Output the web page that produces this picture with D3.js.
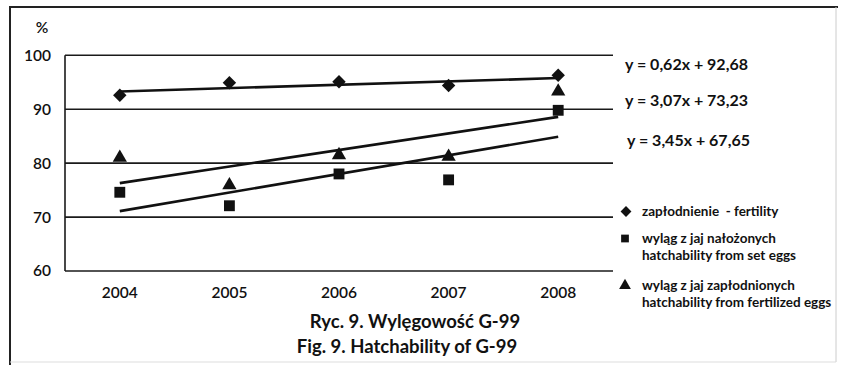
<!DOCTYPE html>
<html lang="pl">
<head>
<meta charset="UTF-8">
<title>Ryc. 9. Wylęgowość G-99</title>
<script src="https://d3js.org/d3.v7.min.js"></script>
<style>
    body { margin: 0; background: #fff; }
    svg { display: block; font-family: Lato, "Open Sans", sans-serif; }
    .tick-label { font-size: 15.5px; font-weight: 600; fill: #111; }
    .eq { font-size: 16px; font-weight: bold; fill: #111; }
    .legend-text { font-size: 13.5px; font-weight: bold; fill: #111; white-space: pre; }
    .title { font-size: 18.5px; font-weight: bold; fill: #111; }
</style>
</head>
<body>
<svg id="chart" width="841" height="365"></svg>
<script>
// data
const years = ["2004", "2005", "2006", "2007", "2008"];
const fertility = [92.6, 94.9, 95.1, 94.4, 96.3];
const setEggs = [74.6, 72.1, 78.0, 76.9, 89.8];
const fertilizedEggs = [81.0, 75.9, 81.5, 81.2, 93.3];
const yTicks = [60, 70, 80, 90, 100];

// trend equations printed on the chart (x = 1..5)
const trendSlopes = [0.62, 3.07, 3.45];
const trendIntercepts = [92.68, 73.23, 67.65];
const trendLabels = ["y = 0,62x + 92,68", "y = 3,07x + 73,23", "y = 3,45x + 67,65"];

const legendLabels = [
    ["zapłodnienie  - fertility"],
    ["wyląg z jaj nałożonych", "hatchability from set eggs"],
    ["wyląg z jaj zapłodnionych", "hatchability from fertilized eggs"]
];

const svg = d3.select("#chart");

// frame around the figure
svg.append("line").attr("x1", 9).attr("x2", 838).attr("y1", 7).attr("y2", 7)
    .attr("stroke", "#222").attr("stroke-width", 2);
svg.append("line").attr("x1", 10).attr("x2", 10).attr("y1", 7).attr("y2", 365)
    .attr("stroke", "#222").attr("stroke-width", 2);
svg.append("line").attr("x1", 836).attr("x2", 836).attr("y1", 7).attr("y2", 362)
    .attr("stroke", "#ccc").attr("stroke-width", 1);
svg.append("line").attr("x1", 10).attr("x2", 836).attr("y1", 362).attr("y2", 362)
    .attr("stroke", "#ddd").attr("stroke-width", 1);

const plotLeft = 65, plotRight = 613, plotTop = 55.3, plotBottom = 271;

const x = d3.scaleBand().domain(years).range([plotLeft, plotRight]);
const y = d3.scaleLinear().domain([60, 100]).range([plotBottom, plotTop]);
const cx = d => x(d) + x.bandwidth() / 2;

// gridlines
svg.append("g").selectAll("line")
    .data(yTicks)
    .join("line")
    .attr("x1", plotLeft).attr("x2", plotRight)
    .attr("y1", d => y(d)).attr("y2", d => y(d))
    .attr("stroke", "#1a1a1a").attr("stroke-width", 1.6);

// y axis line
svg.append("line").attr("x1", plotLeft).attr("x2", plotLeft).attr("y1", plotTop).attr("y2", plotBottom)
    .attr("stroke", "#1a1a1a").attr("stroke-width", 1.6);

// y tick labels
svg.append("g").selectAll("text")
    .data(yTicks)
    .join("text")
    .attr("class", "tick-label")
    .attr("x", 51).attr("y", d => y(d))
    .attr("dy", "0.35em")
    .attr("text-anchor", "end")
    .text(d => d);

svg.append("text").attr("class", "tick-label")
    .attr("x", 42).attr("y", 28).attr("dy", "0.35em")
    .attr("text-anchor", "middle")
    .text("%");

// x tick labels
svg.append("g").selectAll("text")
    .data(years)
    .join("text")
    .attr("class", "tick-label")
    .attr("x", d => cx(d)).attr("y", 293)
    .attr("dy", "0.35em")
    .attr("text-anchor", "middle")
    .text(d => d);

// trend lines
const trendData = trendSlopes.map((s, i) => [1, 5].map(t => ({ year: years[t - 1], v: s * t + trendIntercepts[i] })));
const line = d3.line().x(d => cx(d.year)).y(d => y(d.v));
svg.append("g").selectAll("path")
    .data(trendData)
    .join("path")
    .attr("d", line)
    .attr("fill", "none")
    .attr("stroke", "#111")
    .attr("stroke-width", 2.6);

// markers
const symbols = [
    d3.symbol().type(d3.symbolDiamond2).size(115),
    d3.symbol().type(d3.symbolSquare).size(118),
    d3.symbol().type(d3.symbolTriangle).size(88)
];
const seriesList = [fertility, setEggs, fertilizedEggs];
seriesList.forEach((vals, i) => {
    svg.append("g").selectAll("path")
        .data(vals)
        .join("path")
        .attr("transform", (d, j) => `translate(${cx(years[j])},${y(d)})`)
        .attr("d", symbols[i])
        .attr("fill", "#111");
});

// equations
const eqY = [64, 100, 140];
const eqX = [625, 625, 627];
svg.append("g").selectAll("text")
    .data(trendLabels)
    .join("text")
    .attr("class", "eq")
    .attr("x", (d, i) => eqX[i]).attr("y", (d, i) => eqY[i])
    .attr("dy", "0.35em")
    .text(d => d);

// legend
const legendY = [211.5, 238.5, 285.5];
const legendSymbols = [
    d3.symbol().type(d3.symbolDiamond2).size(75),
    d3.symbol().type(d3.symbolSquare).size(60),
    d3.symbol().type(d3.symbolTriangle).size(60)
];
const legendSymX = [626, 625, 625];
const legend = svg.append("g");
legendLabels.forEach((lines, i) => {
    legend.append("path")
        .attr("transform", `translate(${legendSymX[i]},${legendY[i]})`)
        .attr("d", legendSymbols[i])
        .attr("fill", "#111");
    lines.forEach((t, k) => {
        legend.append("text")
            .attr("class", "legend-text")
            .attr("x", 642).attr("y", legendY[i] + k * 17)
            .attr("dy", "0.35em")
            .text(t);
    });
});

// title
const titles = ["Ryc. 9. Wylęgowość G-99", "Fig. 9. Hatchability of G-99"];
const titleX = [415, 407];
svg.append("g").selectAll("text")
    .data(titles)
    .join("text")
    .attr("class", "title")
    .attr("x", (d, i) => titleX[i]).attr("y", (d, i) => 322 + i * 25)
    .attr("dy", "0.35em")
    .attr("text-anchor", "middle")
    .text(d => d);
</script>
</body>
</html>
